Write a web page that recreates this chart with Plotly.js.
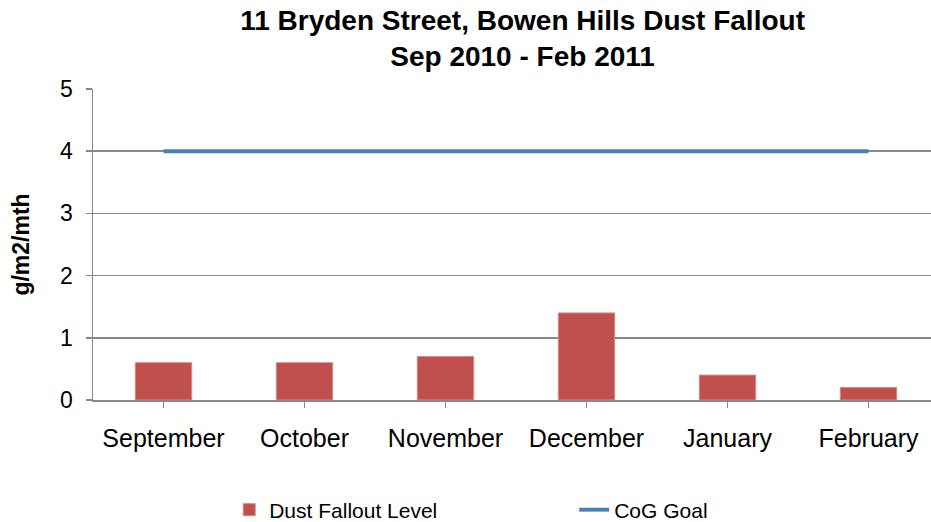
<!DOCTYPE html>
<html><head><meta charset="utf-8">
<script src="https://cdn.plot.ly/plotly-3.0.1.min.js"></script>
<style>html,body{margin:0;padding:0;overflow:hidden;background:#fff;}</style>
</head><body><div id="chart"></div>
<script>
const months = ["September","October","November","December","January","February"];
const dustFallout = [0.6, 0.6, 0.7, 1.4, 0.4, 0.2];
const cogGoal = [4, 4, 4, 4, 4, 4];
const yTicks = [0,1,2,3,4,5];

const F = "Liberation Sans, Arial, sans-serif";
const data = [
  {type:"bar", x:months, y:dustFallout, name:"Dust Fallout Level",
   marker:{color:"#C0504D", line:{color:"#D38A88", width:1}}},
  {type:"scatter", mode:"lines", x:months, y:cogGoal, name:"CoG Goal",
   line:{color:"#4A7EBB", width:4}}
];
const layout = {
  width:945, height:522,
  margin:{l:93, r:6, t:89, b:122, autoexpand:false},
  paper_bgcolor:"#fff", plot_bgcolor:"#fff",
  bargap:0.6,
  title:{text:"<b>11 Bryden Street, Bowen Hills Dust Fallout<br>Sep 2010 - Feb 2011</b>",
    font:{family:F, size:28, color:"#000"}, x:0.553, xanchor:"center", y:0.943, yanchor:"top"},
  xaxis:{type:"category", showline:true, linecolor:"#888", linewidth:1.5,
    ticks:"outside", ticklen:6, tickcolor:"#888", tickwidth:1.5, ticklabelstandoff:9,
    tickfont:{family:F, size:25, color:"#000"}, showgrid:false, fixedrange:true},
  yaxis:{range:[0,5], tickvals:yTicks, showline:true, linecolor:"#888", linewidth:1.5,
    ticks:"outside", ticklen:6, tickcolor:"#888", tickwidth:1.5, ticklabelstandoff:8,
    gridcolor:"#888", gridwidth:1.6, zeroline:false,
    tickfont:{family:F, size:23, color:"#000"},
    title:{text:"<b>g/m2/mth</b>", font:{family:F, size:23, color:"#000"}, standoff:24}},
  showlegend:true,
  legend:{orientation:"h", x:0.161, xanchor:"left", yref:"container", y:0.023, yanchor:"middle",
    entrywidth:300, entrywidthmode:"pixels", font:{family:F, size:21, color:"#000"}}
};
Plotly.newPlot("chart", data, layout, {displayModeBar:false, staticPlot:true});
</script></body></html>
